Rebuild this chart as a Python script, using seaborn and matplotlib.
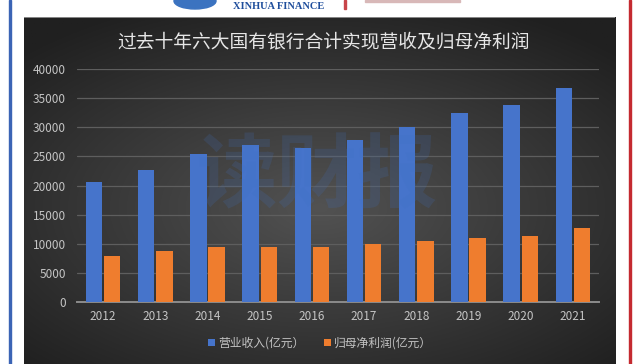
import numpy as np
import pandas as pd
import matplotlib
matplotlib.use("Agg")
import matplotlib.pyplot as plt
import seaborn as sns
from matplotlib.patches import Rectangle, Ellipse

years = ['2012', '2013', '2014', '2015', '2016', '2017', '2018', '2019', '2020', '2021']
revenue = [20600, 22700, 25450, 26900, 26450, 27800, 30050, 32400, 33900, 36700]
profit = [7900, 8800, 9400, 9500, 9500, 10000, 10450, 11050, 11270, 12650]
series_names = ['营业收入(亿元）', '归母净利润(亿元）']
title = '过去十年六大国有银行合计实现营收及归母净利润'
yticks = [0, 5000, 10000, 15000, 20000, 25000, 30000, 35000, 40000]

sns.set_theme(style="dark")
plt.rcParams['font.family'] = ['Noto Sans CJK SC', 'DejaVu Sans']

df = pd.DataFrame({
    'year': years * 2,
    'value': revenue + profit,
    'series': [series_names[0]] * len(years) + [series_names[1]] * len(years),
})

W, H = 640, 364
fig = plt.figure(figsize=(W / 100, H / 100), dpi=100)
fig.patch.set_facecolor('white')

# dark panel with radial gradient
px0, px1, py0, py1 = 23.5 / W, 615 / W, 0.0, 1 - 17 / H
bg = fig.add_axes([px0, py0, px1 - px0, py1 - py0])
gx, gy = np.meshgrid(np.linspace(-1, 1, 400), np.linspace(-1, 1, 240))
r = np.sqrt((gx * 0.95) ** 2 + ((gy + 0.1) * 1.05) ** 2)
r = np.clip(r / 1.35, 0, 1)
c0 = np.array([0x52, 0x52, 0x52]) / 255
c1 = np.array([0x20, 0x20, 0x20]) / 255
img = c0[None, None, :] * (1 - r[..., None]) + c1[None, None, :] * r[..., None]
bg.imshow(img, aspect='auto', extent=[0, 1, 0, 1], origin='lower')
bg.set_axis_off()
bg.add_line(plt.Line2D([0, 1], [1, 1], color='#9a9a9a', lw=1.2, transform=bg.transAxes))

# main axes
ax = fig.add_axes([77 / W, 1 - 302 / H, (599 - 77) / W, (302 - 69) / H])
ax.patch.set_alpha(0)
sns.barplot(data=df, x='year', y='value', hue='series',
            palette=['#4674cb', '#ef7d2e'], width=0.7, gap=0.1,
            saturation=1, ax=ax, zorder=3, edgecolor='none')
ax.set_ylim(0, 40000)
ax.set_yticks(yticks)
ax.set_yticklabels([str(t) for t in yticks])
ax.set_xlim(-0.5, len(years) - 0.5)
ax.set_xlabel('')
ax.set_ylabel('')
ax.grid(axis='y', color='#5e5e5e', lw=0.9, zorder=0)
ax.grid(axis='x', visible=False)
for s in ['top', 'right', 'left']:
    ax.spines[s].set_visible(False)
ax.spines['bottom'].set_color('#8c8c8c')
ax.spines['bottom'].set_linewidth(1.4)
ax.tick_params(axis='both', length=0, colors='#c4c4c4', labelsize=8.5)
ax.tick_params(axis='y', pad=8)
ax.tick_params(axis='x', pad=6)

leg = ax.get_legend()
handles, labels = ax.get_legend_handles_labels()
leg.remove()
fig.legend(handles, labels, loc='center', bbox_to_anchor=(0.5, 1 - 343 / H),
           ncol=2, frameon=False, fontsize=8.5, labelcolor='#c4c4c4',
           handlelength=0.6, handleheight=0.6, handletextpad=0.3, columnspacing=1.6)

fig.text(0.506, 1 - 42 / H, title, ha='center', va='center', color='#e6e6e6',
         fontsize=13.5)

# watermark
fig.text(317 / W, 1 - 178 / H, '读财报', ha='center', va='center', color='#3f6fc0',
         alpha=0.18, fontsize=58, fontweight='bold', zorder=10)

# top decorations
fig.add_artist(Ellipse((195 / W, 1 - 1 / H), 42 / W, 16 / H, color='#3b73c0', transform=fig.transFigure))
fig.text(279 / W, 1 - 9 / H, 'XINHUA FINANCE', ha='center', va='baseline', color='#1f4e9c',
         fontsize=7.5, fontweight='bold', family='Liberation Serif')
fig.add_artist(Rectangle((344 / W, 1 - 9 / H), 1.5 / W, 9 / H, color='#c8454a', transform=fig.transFigure))
fig.add_artist(Rectangle((365 / W, 1 - 1.5 / H), 95 / W, 1.5 / H, color='#d8b8b8', transform=fig.transFigure))
# side lines
fig.add_artist(Rectangle((9 / W, 0), 2 / W, 1, color='#3b64b5', transform=fig.transFigure))
fig.add_artist(Rectangle((629 / W, 0), 1.6 / W, 1, color='#c42a30', transform=fig.transFigure))

fig.savefig('out.png', dpi=100)
